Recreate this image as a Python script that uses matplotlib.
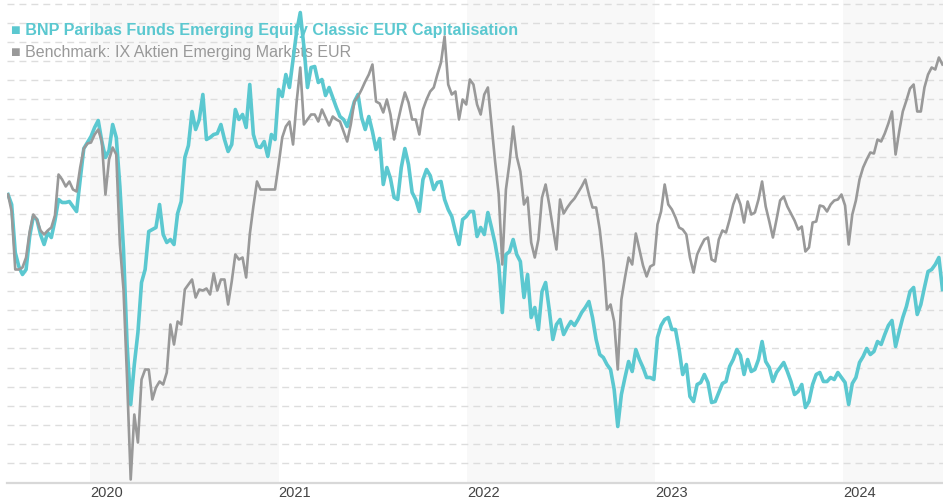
import matplotlib
matplotlib.use("Agg")
import matplotlib.pyplot as plt
import numpy as np
import pandas as pd
from matplotlib import font_manager

# weekly closes, indexed to 100 at the start
fund_name = "BNP Paribas Funds Emerging Equity Classic EUR Capitalisation"
bench_name = "Benchmark: IX Aktien Emerging Markets EUR"
start_date = "2019-07-26"

fund = [
    100.0, 99.0, 94.2, 92.8, 92.0, 92.5, 95.8, 97.8, 97.5, 96.0,
    95.0, 96.2, 95.7, 97.4, 99.5, 99.2, 99.2, 99.3, 98.8, 98.3,
    101.5, 104.6, 105.2, 105.8, 106.7, 107.4, 105.3, 103.7, 104.4, 107.0,
    105.7, 100.8, 94.5, 85.0, 79.0, 83.0, 86.2, 91.2, 92.5, 96.3,
    96.5, 96.7, 99.0, 96.0, 95.2, 95.5, 95.0, 98.1, 99.3, 103.7,
    104.9, 108.3, 106.5, 107.5, 110.0, 105.5, 105.7, 106.0, 106.1, 107.0,
    105.5, 104.3, 105.0, 108.5, 107.5, 108.0, 106.7, 111.0, 106.0, 104.8,
    104.7, 105.3, 103.8, 106.0, 105.5, 110.5, 109.8, 112.0, 110.7, 113.5,
    116.3, 118.2, 114.8, 110.7, 112.7, 112.8, 111.2, 111.5, 109.9, 110.7,
    109.7, 108.7, 107.8, 107.5, 106.8, 108.0, 109.3, 110.0, 107.7, 106.5,
    107.8, 106.3, 104.5, 105.6, 101.0, 102.7, 101.6, 99.7, 99.5, 102.7,
    104.6, 103.0, 100.2, 99.5, 98.3, 101.5, 102.5, 101.9, 100.5, 101.2,
    101.3, 99.5, 98.5, 97.8, 96.3, 95.0, 97.5, 97.8, 98.3, 98.3,
    95.8, 96.7, 96.0, 98.2, 96.7, 95.1, 93.0, 88.2, 94.0, 94.3,
    95.5, 94.0, 93.3, 89.7, 92.0, 87.7, 88.7, 86.5, 90.3, 91.2,
    88.5, 85.5, 87.0, 87.5, 86.0, 86.7, 87.3, 86.9, 87.5, 88.2,
    88.7, 89.3, 87.7, 85.5, 84.0, 83.7, 83.0, 82.5, 80.5, 76.8,
    80.0, 81.7, 83.3, 82.3, 84.5, 83.5, 82.7, 81.7, 81.7, 81.5,
    85.7, 86.9, 87.5, 87.7, 86.5, 86.5, 84.5, 82.0, 83.0, 79.8,
    79.3, 81.0, 81.2, 82.0, 81.2, 79.2, 79.3, 80.2, 81.1, 81.3,
    82.8, 83.5, 84.5, 83.9, 82.0, 83.5, 82.3, 82.5, 83.5, 85.3,
    83.3, 82.7, 81.3, 82.2, 82.7, 83.2, 82.3, 81.3, 80.0, 80.3,
    81.0, 78.7, 79.3, 81.0, 82.0, 82.2, 81.3, 81.3, 81.7, 81.5,
    82.2, 81.7, 81.2, 79.0, 81.1, 81.7, 83.2, 83.8, 84.6, 84.0,
    84.3, 85.3, 85.0, 86.0, 86.9, 87.4, 84.8, 86.3, 87.7, 88.8,
    90.3, 90.7, 88.0, 89.0, 90.7, 92.3, 92.5, 93.0, 93.7, 90.5,
]

bench = [
    100.0, 98.3, 92.5, 92.5, 92.7, 93.7, 96.3, 98.0, 97.5, 96.4,
    96.0, 96.4, 96.7, 97.9, 102.0, 101.5, 100.8, 101.3, 100.5, 100.3,
    102.7, 104.6, 105.1, 105.2, 106.0, 106.5, 105.3, 100.0, 103.5, 104.7,
    104.0, 95.0, 90.5, 81.5, 71.5, 78.0, 75.2, 81.5, 82.5, 82.5,
    79.5, 80.7, 81.3, 81.0, 82.2, 87.0, 85.0, 87.3, 87.0, 90.5,
    91.0, 91.5, 89.7, 90.5, 90.4, 90.6, 90.0, 92.1, 90.4, 91.5,
    91.5, 89.0, 91.3, 94.0, 93.5, 93.7, 91.7, 96.0, 98.8, 101.3,
    100.5, 100.5, 100.5, 100.5, 100.5, 103.0, 105.7, 106.8, 107.3, 105.0,
    109.3, 112.7, 107.0, 107.5, 108.0, 108.0, 107.3, 108.5, 107.7, 106.9,
    107.8, 107.5, 107.3, 106.3, 105.3, 107.0, 109.3, 109.8, 110.5, 111.3,
    112.0, 113.0, 109.3, 109.1, 108.2, 109.5, 108.0, 105.5, 107.2, 108.8,
    110.2, 109.2, 107.5, 107.5, 106.0, 108.5, 109.5, 110.3, 110.7, 112.0,
    113.2, 115.8, 111.0, 110.0, 110.3, 107.5, 109.5, 109.0, 111.5, 111.0,
    109.0, 108.0, 110.0, 110.7, 107.0, 103.3, 100.0, 93.0, 100.5, 103.2,
    106.8, 103.8, 102.3, 99.0, 99.7, 95.2, 93.7, 95.5, 99.7, 101.0,
    99.0, 96.7, 94.5, 99.5, 98.1, 98.7, 99.2, 99.6, 100.2, 100.8,
    101.5, 100.0, 98.7, 98.7, 96.5, 93.3, 88.5, 89.0, 87.3, 82.5,
    89.5, 91.7, 93.7, 93.0, 96.1, 94.5, 92.9, 91.8, 92.8, 93.0,
    97.0, 98.3, 101.0, 99.0, 98.5, 97.7, 96.7, 96.5, 96.0, 93.7,
    92.2, 94.0, 94.8, 95.5, 95.7, 93.5, 93.3, 95.5, 96.4, 96.2,
    97.5, 99.0, 100.0, 99.0, 97.2, 99.3, 98.0, 98.2, 99.5, 101.3,
    98.8, 97.3, 95.7, 97.5, 99.4, 99.8, 98.8, 98.1, 97.4, 96.5,
    96.8, 94.3, 94.7, 97.2, 97.3, 98.9, 98.8, 98.3, 99.0, 99.4,
    99.5, 100.0, 98.9, 95.0, 98.0, 99.4, 101.5, 102.7, 103.5, 104.2,
    104.1, 105.5, 105.3, 106.1, 107.1, 108.3, 104.0, 106.3, 108.3, 109.4,
    110.6, 111.0, 108.3, 108.3, 110.7, 112.0, 112.7, 112.5, 113.7, 113.0,
]

years = [2020, 2021, 2022, 2023, 2024]
shaded_years = [2020, 2022, 2024]

dates = pd.date_range(start_date, periods=len(fund), freq="W-FRI")

TEAL = "#5bc8d0"
GREY = "#999999"

names = {f.name for f in font_manager.fontManager.ttflist}
tick_font = "Liberation Sans Narrow" if "Liberation Sans Narrow" in names else "Liberation Sans"

fig = plt.figure(figsize=(9.43, 5.0), dpi=100)
ax = fig.add_axes([7 / 943, 17.5 / 500, 936 / 943, 482.5 / 500])

x_left = pd.Timestamp("2019-07-24")
x_right = pd.Timestamp("2024-07-13")
y_low, y_high = 71.2, 119.45

# alternating year bands
for yr in shaded_years:
    ax.axvspan(pd.Timestamp(f"{yr}-01-01"), pd.Timestamp(f"{yr + 1}-01-01"),
               color="#f8f8f8", zorder=0.1, lw=0)

ax.plot(dates, fund, color=TEAL, lw=2.6, zorder=3, solid_joinstyle="round")
ax.plot(dates, bench, color=GREY, lw=1.9, zorder=4, solid_joinstyle="round")

ax.set_xlim(x_left, x_right)
ax.set_ylim(y_low, y_high)

step = 1.915
ax.set_yticks(np.arange(y_low + step, y_high, step))
ax.yaxis.grid(True, color="#dddddd", lw=1.0, linestyle=(0, (5, 3.6)))
ax.set_axisbelow(True)
ax.tick_params(axis="y", left=False, labelleft=False)

ax.set_xticks([pd.Timestamp(f"{yr}-01-01") for yr in years])
ax.set_xticklabels([str(yr) for yr in years], ha="left", fontsize=10.5,
                   color="#444444", family=tick_font)
ax.tick_params(axis="x", length=0, pad=2.5)

for side in ["top", "right", "left"]:
    ax.spines[side].set_visible(False)
ax.spines["bottom"].set_color("#d8d8d8")
ax.spines["bottom"].set_linewidth(1.6)

ax.text(0.004, 0.937, "\u25a0 " + fund_name, transform=ax.transAxes,
        color=TEAL, fontsize=11.6, fontweight="bold", va="center",
        family=["Liberation Sans", "DejaVu Sans"], zorder=1)
ax.text(0.004, 0.892, "\u25a0 " + bench_name, transform=ax.transAxes,
        color=GREY, fontsize=11.5, va="center",
        family=["Liberation Sans", "DejaVu Sans"], zorder=1)

fig.savefig("out.png", dpi=100)
